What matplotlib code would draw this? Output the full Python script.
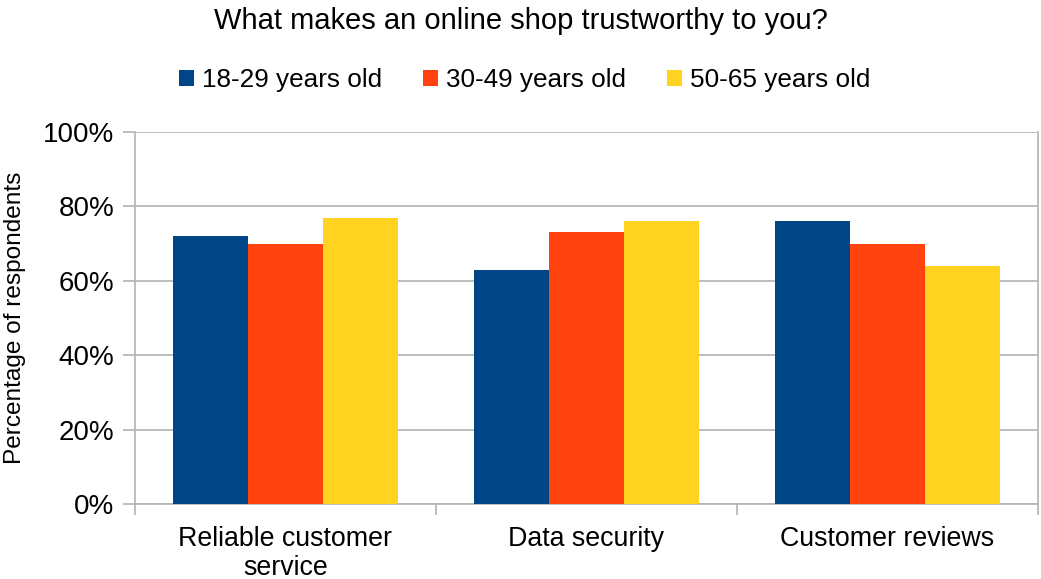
import numpy as np
import matplotlib
matplotlib.use('Agg')
import matplotlib.pyplot as plt
from matplotlib.ticker import FixedLocator, PercentFormatter

plt.rcParams['font.family'] = ['Liberation Sans', 'DejaVu Sans']

# Datos del gráfico
categorias = ['Reliable customer\nservice', 'Data security', 'Customer reviews']
grupos = ['18-29 years old', '30-49 years old', '50-65 years old']
edad_18_29 = [72, 63, 76]
edad_30_49 = [70, 73, 70]
edad_50_65 = [77, 76, 64]
colores = ['#004586', '#ff420e', '#ffd320']

fig = plt.figure(figsize=(10.41, 5.79), dpi=100)
ax = fig.add_axes([0.1297, 0.1295, 0.8673, 0.6425])

x = np.arange(len(categorias))
ancho = 0.25
series = [edad_18_29, edad_30_49, edad_50_65]
for i, (valores, nombre) in enumerate(zip(series, grupos)):
    ax.bar(x + (i - 1) * ancho, valores, ancho, color=colores[i], label=nombre, zorder=3)

ax.set_xlim(-0.5, len(categorias) - 0.5)
ax.set_ylim(0, 100)

# Rejilla y ejes
ax.set_yticks(np.arange(0, 101, 20))
ax.yaxis.set_major_formatter(PercentFormatter(decimals=0))
ax.grid(axis='y', color='#b3b3b3', linewidth=1.2, zorder=0)
for lado in ['left', 'right', 'top', 'bottom']:
    ax.spines[lado].set_color('#b3b3b3')
    ax.spines[lado].set_linewidth(1.2)
ax.spines['top'].set_visible(False)

ax.xaxis.set_major_locator(FixedLocator(np.arange(-0.5, len(categorias), 1)))
ax.xaxis.set_minor_locator(FixedLocator(x))
ax.set_xticklabels([''] * (len(categorias) + 1))
ax.set_xticklabels(categorias, minor=True, fontsize=19.3, linespacing=1.12)
ax.tick_params(axis='x', which='major', length=8, color='#b3b3b3', width=1.2)
ax.tick_params(axis='x', which='minor', length=0, pad=16)
ax.tick_params(axis='y', length=9, color='#b3b3b3', width=1.2, labelsize=20, pad=6)

ax.set_ylabel('Percentage of respondents', fontsize=17.6, labelpad=12)

fig.suptitle('What makes an online shop trustworthy to you?', fontsize=21, y=0.988)
fig.legend(loc='center', bbox_to_anchor=(0.504, 0.862), ncol=3, frameon=False,
           fontsize=18.8, handlelength=0.55, handleheight=0.55, handletextpad=0.3,
           columnspacing=1.6)

plt.savefig('out.png', dpi=100)
